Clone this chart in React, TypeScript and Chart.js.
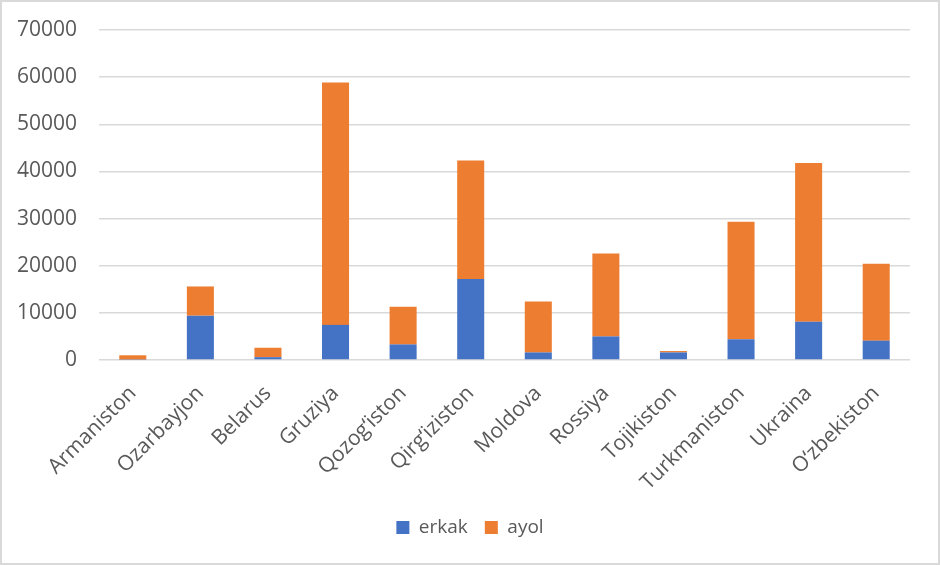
import { useEffect, useRef } from "react";
import Chart from "chart.js/auto";

const countries = [
  "Armaniston",
  "Ozarbayjon",
  "Belarus",
  "Gruziya",
  "Qozog\u2018iston",
  "Qirg\u2018iziston",
  "Moldova",
  "Rossiya",
  "Tojikiston",
  "Turkmaniston",
  "Ukraina",
  "O\u2018zbekiston",
];

const erkak = [100, 9400, 600, 7450, 3300, 17200, 1600, 5000, 1600, 4400, 8100, 4100];
const ayol = [900, 6200, 2000, 51400, 8000, 25100, 10800, 17600, 300, 24900, 33700, 16300];

const yTicks = [0, 10000, 20000, 30000, 40000, 50000, 60000, 70000];

const textColor = "#595959";
const gridColor = "#d9d9d9";
const fontFamily = "'Open Sans', 'DejaVu Sans', sans-serif";

const App = () => {
  const canvasRef = useRef<HTMLCanvasElement>(null);

  useEffect(() => {
    if (!canvasRef.current) return;
    const ctx = canvasRef.current.getContext("2d");
    if (!ctx) return;

    const chart = new Chart(ctx, {
      type: "bar",
      data: {
        labels: countries,
        datasets: [
          {
            label: "erkak",
            data: erkak,
            backgroundColor: "#4472C4",
            categoryPercentage: 1,
            barPercentage: 0.4,
          },
          {
            label: "ayol",
            data: ayol,
            backgroundColor: "#ED7D31",
            categoryPercentage: 1,
            barPercentage: 0.4,
          },
        ],
      },
      options: {
        responsive: true,
        maintainAspectRatio: false,
        animation: false,
        layout: { padding: { top: 28, right: 0, bottom: 16, left: 0 } },
        scales: {
          x: {
            stacked: true,
            grid: { display: false, drawTicks: false },
            border: { display: false },
            ticks: {
              color: textColor,
              font: { family: fontFamily, size: 21 },
              minRotation: 45,
              maxRotation: 45,
              padding: 21,
            },
            afterFit: (axis) => {
              // rotated first label may hang left of the plot, like in the original
              axis.paddingLeft = 0;
              axis.paddingRight = 0;
              axis.height = 141;
            },
          },
          y: {
            stacked: true,
            min: 0,
            max: 70000,
            afterBuildTicks: (axis) => {
              axis.ticks = yTicks.map((v) => ({ value: v }));
            },
            afterFit: (axis) => {
              axis.width = 97;
              axis.paddingTop = 0;
              axis.paddingBottom = 0;
            },
            grid: { color: gridColor, lineWidth: 1.5, drawTicks: false },
            border: { display: false },
            ticks: {
              color: textColor,
              font: { family: fontFamily, size: 21 },
              padding: 22,
              callback: (v) => String(v),
            },
          },
          // empty strip on the right so the plot ends where the original does
          yRight: {
            position: "right",
            grid: { display: false, drawTicks: false },
            border: { display: false },
            ticks: { display: false },
            afterFit: (axis) => {
              axis.width = 28;
            },
          },
        },
        plugins: {
          legend: {
            position: "bottom",
            labels: {
              color: textColor,
              font: { family: fontFamily, size: 19 },
              boxWidth: 13,
              boxHeight: 13,
              padding: 17,
            },
          },
          tooltip: { enabled: false },
        },
      },
    });

    return () => chart.destroy();
  }, []);

  return (
    <div
      style={{
        position: "fixed",
        left: 0,
        top: 0,
        width: 940,
        height: 565,
        boxSizing: "border-box",
        border: "2px solid #d9d9d9",
        background: "#fff",
      }}
    >
      <div style={{ position: "relative", width: "100%", height: "100%" }}>
        <canvas ref={canvasRef}></canvas>
      </div>
    </div>
  );
};

export default App;
